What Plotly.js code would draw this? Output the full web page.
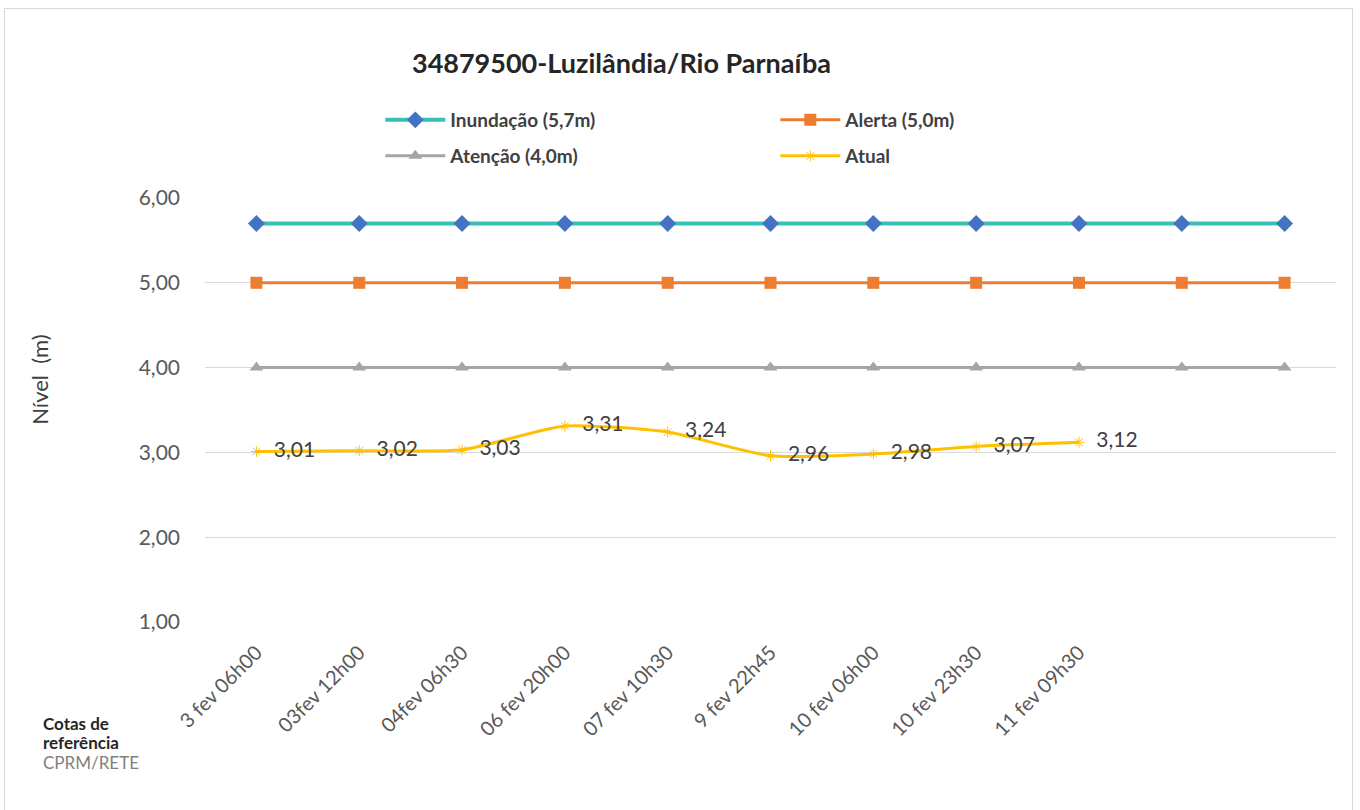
<!DOCTYPE html>
<html>
<head>
<meta charset="utf-8">
<script src="https://cdn.plot.ly/plotly-3.0.1.min.js"></script>
<style>
  html, body { margin: 0; padding: 0; background: #fff; }
  #wrap { position: relative; width: 1360px; height: 810px; }
  #chart { width: 1360px; height: 810px; }
  #frame { position: absolute; left: 4px; top: 8px; width: 1349px; height: 810px;
           border: 1px solid #d9d9d9; box-sizing: border-box; pointer-events: none; }
</style>
</head>
<body>
<div id="wrap">
  <div id="chart"></div>
  <div id="frame"></div>
</div>
<script>
const categories = ["3 fev 06h00", "03fev 12h00", "04fev 06h30", "06 fev 20h00", "07 fev 10h30",
                    "9 fev 22h45", "10 fev 06h00", "10 fev 23h30", "11 fev 09h30", "", ""];
const inundacao = [5.7, 5.7, 5.7, 5.7, 5.7, 5.7, 5.7, 5.7, 5.7, 5.7, 5.7];
const alerta    = [5.0, 5.0, 5.0, 5.0, 5.0, 5.0, 5.0, 5.0, 5.0, 5.0, 5.0];
const atencao   = [4.0, 4.0, 4.0, 4.0, 4.0, 4.0, 4.0, 4.0, 4.0, 4.0, 4.0];
const atual     = [3.01, 3.02, 3.03, 3.31, 3.24, 2.96, 2.98, 3.07, 3.12, null, null];
const yTicks    = [1, 2, 3, 4, 5, 6];

const idx = categories.map((c, i) => i);
const FONT = "Lato, 'Open Sans', sans-serif";

const traces = [
  { x: idx, y: inundacao, name: "Inundação (5,7m)", type: "scatter", mode: "lines+markers",
    line: { color: "#36C1B2", width: 4 },
    marker: { symbol: "diamond", size: 13, color: "#4472C4" }, legend: "legend" },
  { x: idx, y: alerta, name: "Alerta (5,0m)", type: "scatter", mode: "lines+markers",
    line: { color: "#ED7D31", width: 3 },
    marker: { symbol: "square", size: 12, color: "#ED7D31" }, legend: "legend" },
  { x: idx, y: atencao, name: "Atenção (4,0m)", type: "scatter", mode: "lines+markers",
    line: { color: "#A5A5A5", width: 3 },
    marker: { symbol: "triangle-up", size: 12, color: "#A5A5A5" }, legend: "legend2" },
  { x: idx, y: atual, name: "Atual", type: "scatter", mode: "lines+markers+text",
    line: { color: "#FFC000", width: 3, shape: "spline", smoothing: 0.6 },
    marker: { symbol: "asterisk-open", size: 9, color: "#FFC000", line: { color: "#FFC000", width: 1 } },
    texttemplate: "  %{y:.2f}", textposition: "middle right",
    textfont: { family: FONT, size: 21, color: "#404040" }, legend: "legend2" }
];

const legendCommon = {
  orientation: "h", xanchor: "left", yanchor: "middle",
  entrywidth: 320, entrywidthmode: "pixels", itemwidth: 60,
  font: { family: FONT, size: 19, color: "#404040", weight: "bold" },
  bgcolor: "rgba(0,0,0,0)"
};

const layout = {
  width: 1360, height: 810,
  margin: { l: 205, r: 24, t: 198, b: 188 },
  paper_bgcolor: "#fff", plot_bgcolor: "#fff",
  separators: ",.",
  showlegend: true,
  font: { family: FONT, color: "#595959" },
  title: { text: "<b>34879500-Luzilândia/Rio Parnaíba</b>", xref: "container", yref: "container",
           x: 0.457, y: 0.922, xanchor: "center", yanchor: "middle",
           font: { family: FONT, size: 27, color: "#262626" } },
  xaxis: { range: [-0.5, 10.5], tickvals: idx, ticktext: categories, tickangle: -45,
           showgrid: false, zeroline: false, showline: false, ticks: "",
           ticklabelstandoff: 14,
           tickfont: { family: FONT, size: 20, color: "#595959" } },
  yaxis: { range: [1, 6], tickvals: yTicks, tickformat: ".2f", showgrid: true,
           gridcolor: "#D9D9D9", gridwidth: 1, zeroline: false, showline: false, ticks: "",
           ticklabelstandoff: 24,
           tickfont: { family: FONT, size: 21, color: "#595959" } },
  legend: Object.assign({}, legendCommon, { x: 0.155, y: 1.184 }),
  legend2: Object.assign({}, legendCommon, { x: 0.155, y: 1.099 }),
  annotations: [
    { text: "Nível  (m)", xref: "paper", yref: "paper", x: -0.146, y: 0.571,
      textangle: -90, showarrow: false, xanchor: "center", yanchor: "middle",
      font: { family: FONT, size: 22, color: "#404040" } },
    { text: "<b>Cotas de</b>", xref: "paper", yref: "paper", x: -0.145, y: (622 - 723) / 424,
      xanchor: "left", yanchor: "middle", showarrow: false,
      font: { family: FONT, size: 17, color: "#262626" } },
    { text: "<b>referência</b>", xref: "paper", yref: "paper", x: -0.145, y: (622 - 742) / 424,
      xanchor: "left", yanchor: "middle", showarrow: false,
      font: { family: FONT, size: 17, color: "#262626" } },
    { text: "CPRM/RETE", xref: "paper", yref: "paper", x: -0.145, y: (622 - 762) / 424,
      xanchor: "left", yanchor: "middle", showarrow: false,
      font: { family: FONT, size: 17, color: "#7f7f7f" } }
  ]
};

Plotly.newPlot("chart", traces, layout, { displayModeBar: false, responsive: false });
</script>
</body>
</html>
